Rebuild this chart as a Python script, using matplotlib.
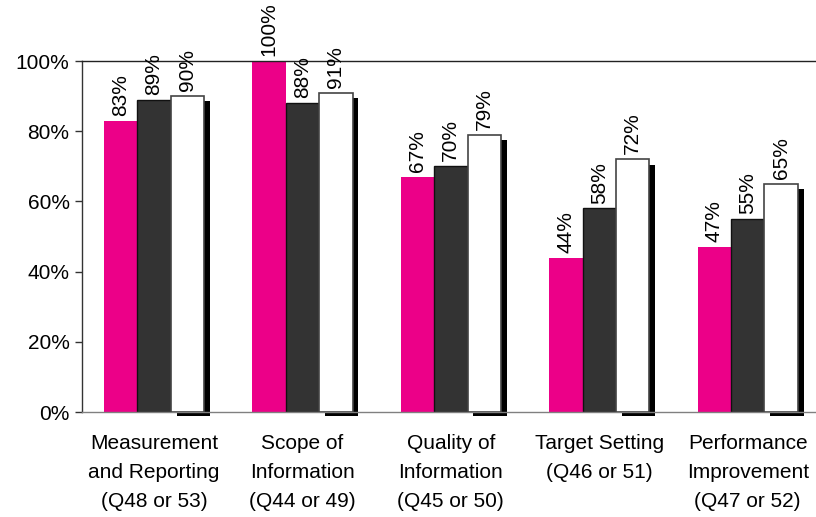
import matplotlib.pyplot as plt
import numpy as np

plt.rcParams["font.family"] = ["Liberation Sans", "DejaVu Sans"]

categories = [
    "Measurement\nand Reporting\n(Q48 or 53)",
    "Scope of\nInformation\n(Q44 or 49)",
    "Quality of\nInformation\n(Q45 or 50)",
    "Target Setting\n(Q46 or 51)",
    "Performance\nImprovement\n(Q47 or 52)",
]
serie_rosa = [83, 100, 67, 44, 47]
serie_gris = [89, 88, 70, 58, 55]
serie_blanca = [90, 91, 79, 72, 65]
yticks = [0, 20, 40, 60, 80, 100]

x = np.arange(len(categories))
ancho = 0.225
fs = 15

fig = plt.figure(figsize=(8.16, 5.17), dpi=100)
ax = fig.add_axes([0.1005, 0.203, 0.8995, 0.679])

# sombra de la barra blanca
ax.bar(x + ancho + 0.04, np.array(serie_blanca) - 0.5, ancho, bottom=-1.0,
       color="black", linewidth=0, zorder=1, clip_on=False)

b1 = ax.bar(x - ancho, serie_rosa, ancho, color="#EC0088", linewidth=0, zorder=2)
b2 = ax.bar(x, serie_gris, ancho, color="#333333", edgecolor="#111111",
            linewidth=1.0, zorder=2)
b3 = ax.bar(x + ancho, serie_blanca, ancho, color="white", edgecolor="#444444",
            linewidth=1.2, zorder=3)

for barras, valores in [(b1, serie_rosa), (b2, serie_gris), (b3, serie_blanca)]:
    for bar, v in zip(barras, valores):
        ax.text(bar.get_x() + bar.get_width() / 2, v + 1.4, f"{v}%",
                rotation=90, ha="center", va="bottom", fontsize=fs,
                clip_on=False)

ax.set_xlim(-0.485, 4.46)
ax.set_ylim(0, 100)
ax.set_yticks(yticks)
ax.set_yticklabels([f"{t}%" for t in yticks], fontsize=fs)
ax.set_xticks(x)
ax.set_xticklabels(categories, fontsize=fs, linespacing=1.65)
ax.tick_params(axis="x", length=0, pad=16)
ax.tick_params(axis="y", length=5, width=1, color="#333333", pad=4)

ax.spines["right"].set_visible(False)
ax.spines["top"].set_color("#222222")
ax.spines["left"].set_color("#333333")
ax.spines["bottom"].set_color("#808080")
for s in ax.spines.values():
    s.set_linewidth(1.0)

plt.savefig("out.png", dpi=100)
